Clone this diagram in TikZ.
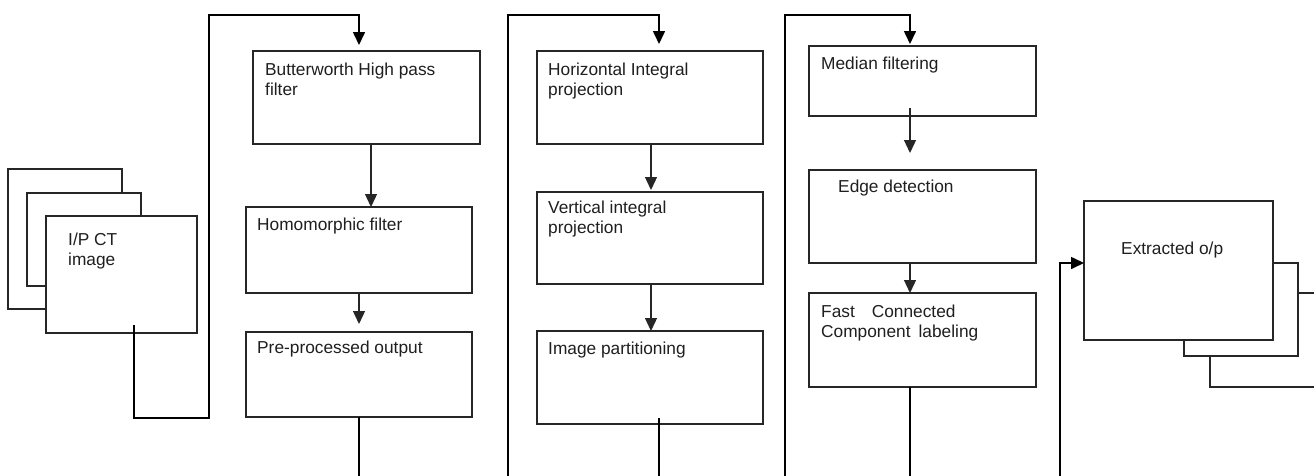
\documentclass[tikz,border=0pt]{standalone}
\usepackage{fontspec}
\setmainfont{Liberation Sans}
\usetikzlibrary{arrows.meta}
\tikzset{
  box/.style={draw=black!85, line width=1.1pt, fill=white, rectangle, inner sep=0pt, outer sep=0pt, anchor=north west},
  lbl/.style={anchor=base west, inner sep=0pt, font=\fontsize{17.3}{20}\selectfont, text=black!88, align=left},
  conn/.style={draw=black, line width=1.6pt},
  arr/.style={conn, -{Triangle[length=13pt,width=12pt]}},
  link/.style={draw=black!85, line width=1.3pt, -{Triangle[length=13pt,width=12pt]}},
}
\begin{document}
\begin{tikzpicture}[x=1pt,y=-1pt]
\useasboundingbox (0,0) rectangle (1314,475);
\clip (0,0) rectangle (1314,475);

% input image stack
\node[box, minimum width=114pt, minimum height=140pt] (ipc) at (8,169) {};
\node[box, minimum width=114pt, minimum height=93pt]  (ipb) at (27,193) {};
\node[box, minimum width=151pt, minimum height=117pt] (ip)  at (46,216) {};

% pre-processing column
\node[box, minimum width=227pt, minimum height=93pt] (b1) at (253,51) {};
\node[box, minimum width=226pt, minimum height=86pt] (b2) at (246,207) {};
\node[box, minimum width=226pt, minimum height=85pt] (b3) at (246,332) {};

% projection column
\node[box, minimum width=226pt, minimum height=93pt] (b4) at (537,51) {};
\node[box, minimum width=226pt, minimum height=92pt] (b5) at (537,192) {};
\node[box, minimum width=226pt, minimum height=93pt] (b6) at (537,331) {};

% segmentation column
\node[box, minimum width=227pt, minimum height=70pt] (b7) at (809,46) {};
\node[box, minimum width=227pt, minimum height=93pt] (b8) at (809,170) {};
\node[box, minimum width=227pt, minimum height=94pt] (b9) at (809,293) {};

% output image stack
\node[box, minimum width=130pt, minimum height=94pt]  (outc) at (1210,293) {};
\node[box, minimum width=114pt, minimum height=93pt]  (outb) at (1184,263) {};
\node[box, minimum width=189pt, minimum height=139pt] (out)  at (1084,201) {};

% labels (two-line labels are placed by the baseline of their last line)
\node[lbl] (tip) at (68,265) {I/P CT\\image};
\node[lbl] (t1) at (265,95) {Butterworth High pass\\filter};
\node[lbl] (t2) at (257,230) {Homomorphic filter};
\node[lbl] (t3) at (257,353) {Pre-processed output};
\node[lbl] (t4) at (548,95) {Horizontal Integral\\projection};
\node[lbl] (t5) at (548,233) {Vertical integral\\projection};
\node[lbl] (t6) at (548,354) {Image partitioning};
\node[lbl] (t7) at (821,69) {Median filtering};
\node[lbl] (t8) at (838,192) {Edge detection};
\node[lbl] (t9) at (821,337) {Fast\hspace{17pt}Connected\\Component\hspace{8pt}labeling};
\node[lbl] (tout) at (1121,254) {Extracted o/p};

% routing points
\coordinate (ipsrc) at (134,325);
\coordinate (k1) at (359,15);
\coordinate (k2) at (371,0);
\coordinate (k3) at (659,15);
\coordinate (k6) at (651,0);
\coordinate (s6) at (659,418);
\coordinate (k4) at (910,15);
\coordinate (s7) at (910,108);
\coordinate (k5) at (1060,263);

% connectors
\draw[arr, shorten >=6pt] (ipsrc) |- (209,418) |- (k1) -- (k1 |- b1.north);
\draw[link] (b1.south -| k2) -- (b2.north -| k2);
\draw[link, shorten >=8pt] (b2.south -| k1) -- (b3.north -| k1);

\draw[arr, shorten >=7pt] (b3.south -| k1) |- (508,490) |- (k3) -- (k3 |- b4.north);
\draw[link, shorten >=2pt] (b4.south -| k6) -- (b5.north -| k6);
\draw[link] (b5.south -| k6) -- (b6.north -| k6);

\draw[arr, shorten >=2pt] (s6) |- (785,490) |- (k4) -- (k4 |- b7.north);
\draw[link, shorten >=17pt] (s7) -- (s7 |- b8.north);
\draw[link] (b8.south -| k4) -- (b9.north -| k4);

\draw[arr] (b9.south -| k4) |- (1060,490) -- (k5) -- (k5 -| out.west);
\end{tikzpicture}
\end{document}
